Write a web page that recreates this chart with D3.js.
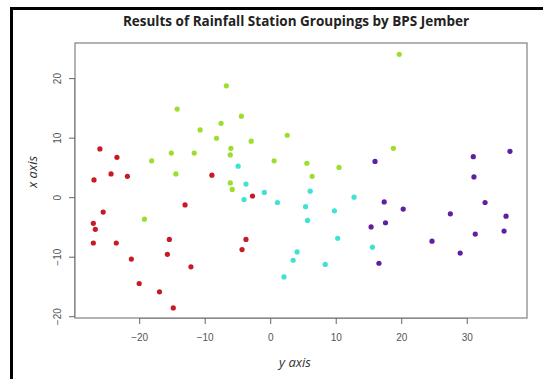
<!DOCTYPE html>
<html><head><meta charset="utf-8">
<script src="https://cdn.jsdelivr.net/npm/d3@7"></script>
<style>body{margin:0;background:#fff}svg{display:block}</style>
</head><body>
<script>
const clusterNames = ["1","2","3","4"];
const clusterColors = ["#C81A26","#9ADE2E","#3FE3D3","#5E1FA3"];
const redX = [-26.0,-23.4,-24.3,-21.8,-26.9,-8.9,-25.5,-27.0,-26.7,-27.0,-23.5,-21.2,-20.0,-13.0,-15.4,-15.7,-12.1,-16.9,-14.8,-3.7,-4.3,-2.7];
const redY = [8.1,6.7,3.9,3.5,2.9,3.7,-2.5,-4.4,-5.4,-7.7,-7.7,-10.4,-14.5,-1.3,-7.1,-9.6,-11.7,-15.9,-18.6,-7.1,-8.8,0.2];
const greenX = [-6.7,-14.2,-4.4,-7.5,-10.7,-8.2,-2.9,-6.0,-15.1,-11.6,-6.1,-18.1,-14.4,-6.1,-5.8,-19.2,19.7,2.6,0.6,5.6,10.5,18.8,6.4];
const greenY = [18.7,14.8,13.6,12.4,11.3,9.9,9.4,8.2,7.4,7.4,7.1,6.1,3.9,2.4,1.3,-3.7,24.0,10.4,6.1,5.7,5.0,8.2,3.5];
const cyanX = [-4.9,-3.7,-4.0,-0.9,6.1,1.1,5.4,12.8,9.8,5.7,10.3,15.6,4.1,3.5,8.4,2.1];
const cyanY = [5.2,2.2,-0.4,0.8,1.0,-0.9,-1.6,0.0,-2.3,-3.9,-6.9,-8.4,-9.2,-10.6,-11.3,-13.4];
const purpleX = [16.0,31.0,36.6,31.1,17.4,17.6,15.4,16.6,20.3,32.8,27.5,36.0,31.3,35.7,24.7,29.0];
const purpleY = [6.0,6.8,7.7,3.4,-0.8,-4.3,-5.0,-11.1,-2.0,-0.9,-2.8,-3.2,-6.2,-5.7,-7.4,-9.4];
const xTicks = [-20,-10,0,10,20,30];
const yTicks = [-20,-10,0,10,20];
const titleText = "Results of Rainfall Station Groupings by BPS Jember";
const xLabel = "y axis", yLabel = "x axis";

const W = 543, H = 379;
const box = {l:75, r:527, t:43, b:318};
const svg = d3.select("body").append("svg").attr("width",W).attr("height",H);

// outer frame
svg.append("line").attr("x1",11.5).attr("x2",11.5).attr("y1",7).attr("y2",H).attr("stroke","#000").attr("stroke-width",3);
svg.append("line").attr("x1",10).attr("x2",W).attr("y1",8.5).attr("y2",8.5).attr("stroke","#000").attr("stroke-width",3);

const x = d3.scaleLinear().domain([-29.8,39.2]).range([box.l, box.r]);
const y = d3.scaleLinear().domain([-20.3,25.9]).range([box.b, box.t]);

svg.append("rect").attr("x",box.l).attr("y",box.t).attr("width",box.r-box.l).attr("height",box.b-box.t)
  .attr("fill","none").attr("stroke","#8a8a8a").attr("stroke-width",1.3);

const xa = svg.append("g").attr("transform",`translate(0,${box.b})`)
  .call(d3.axisBottom(x).tickValues(xTicks).tickSize(6).tickPadding(10).tickFormat(d3.format("d")));
xa.select(".domain").attr("d",`M${x(-20)},0.5H${x(30)}`).attr("stroke","#8a8a8a");
xa.selectAll(".tick line").attr("stroke","#666");
xa.selectAll("text").attr("font-family","Liberation Sans, Arial, sans-serif").attr("font-size",10).attr("fill","#555");

const ya = svg.append("g").attr("transform",`translate(${box.l},0)`)
  .call(d3.axisLeft(y).tickValues(yTicks).tickSize(6).tickFormat(d3.format("d")));
ya.select(".domain").attr("d",`M-0.5,${y(-20)}V${y(20)}`).attr("stroke","#8a8a8a");
ya.selectAll(".tick line").attr("stroke","#666");
ya.selectAll(".tick text").each(function(){
  d3.select(this).attr("font-family","Liberation Sans, Arial, sans-serif").attr("font-size",10).attr("fill","#555")
    .attr("text-anchor","middle").attr("transform","translate(-18,0) rotate(-90)").attr("x",0).attr("y",0).attr("dy","0.35em");
});

const all = [
  {xs:redX, ys:redY, c:clusterColors[0]},
  {xs:greenX, ys:greenY, c:clusterColors[1]},
  {xs:cyanX, ys:cyanY, c:clusterColors[2]},
  {xs:purpleX, ys:purpleY, c:clusterColors[3]}
];
all.forEach(s=>{
  svg.append("g").selectAll("circle").data(s.xs.map((v,i)=>[v,s.ys[i]])).join("circle")
    .attr("cx",d=>x(d[0])).attr("cy",d=>y(d[1])).attr("r",2.6).attr("fill",s.c);
});

svg.append("text").attr("x",296).attr("y",26).attr("text-anchor","middle")
  .attr("font-family","Open Sans, Lato, sans-serif").attr("font-weight","bold").attr("font-size",13.5).attr("fill","#222")
  .text(titleText);
svg.append("text").attr("x",295).attr("y",367).attr("text-anchor","middle")
  .attr("font-family","Open Sans, Lato, sans-serif").attr("font-style","italic").attr("font-size",13).attr("fill","#333")
  .text(xLabel);
svg.append("text").attr("transform","translate(37,172) rotate(-90)").attr("text-anchor","middle")
  .attr("font-family","Open Sans, Lato, sans-serif").attr("font-style","italic").attr("font-size",13).attr("fill","#333")
  .text(yLabel);
</script>
</body></html>
